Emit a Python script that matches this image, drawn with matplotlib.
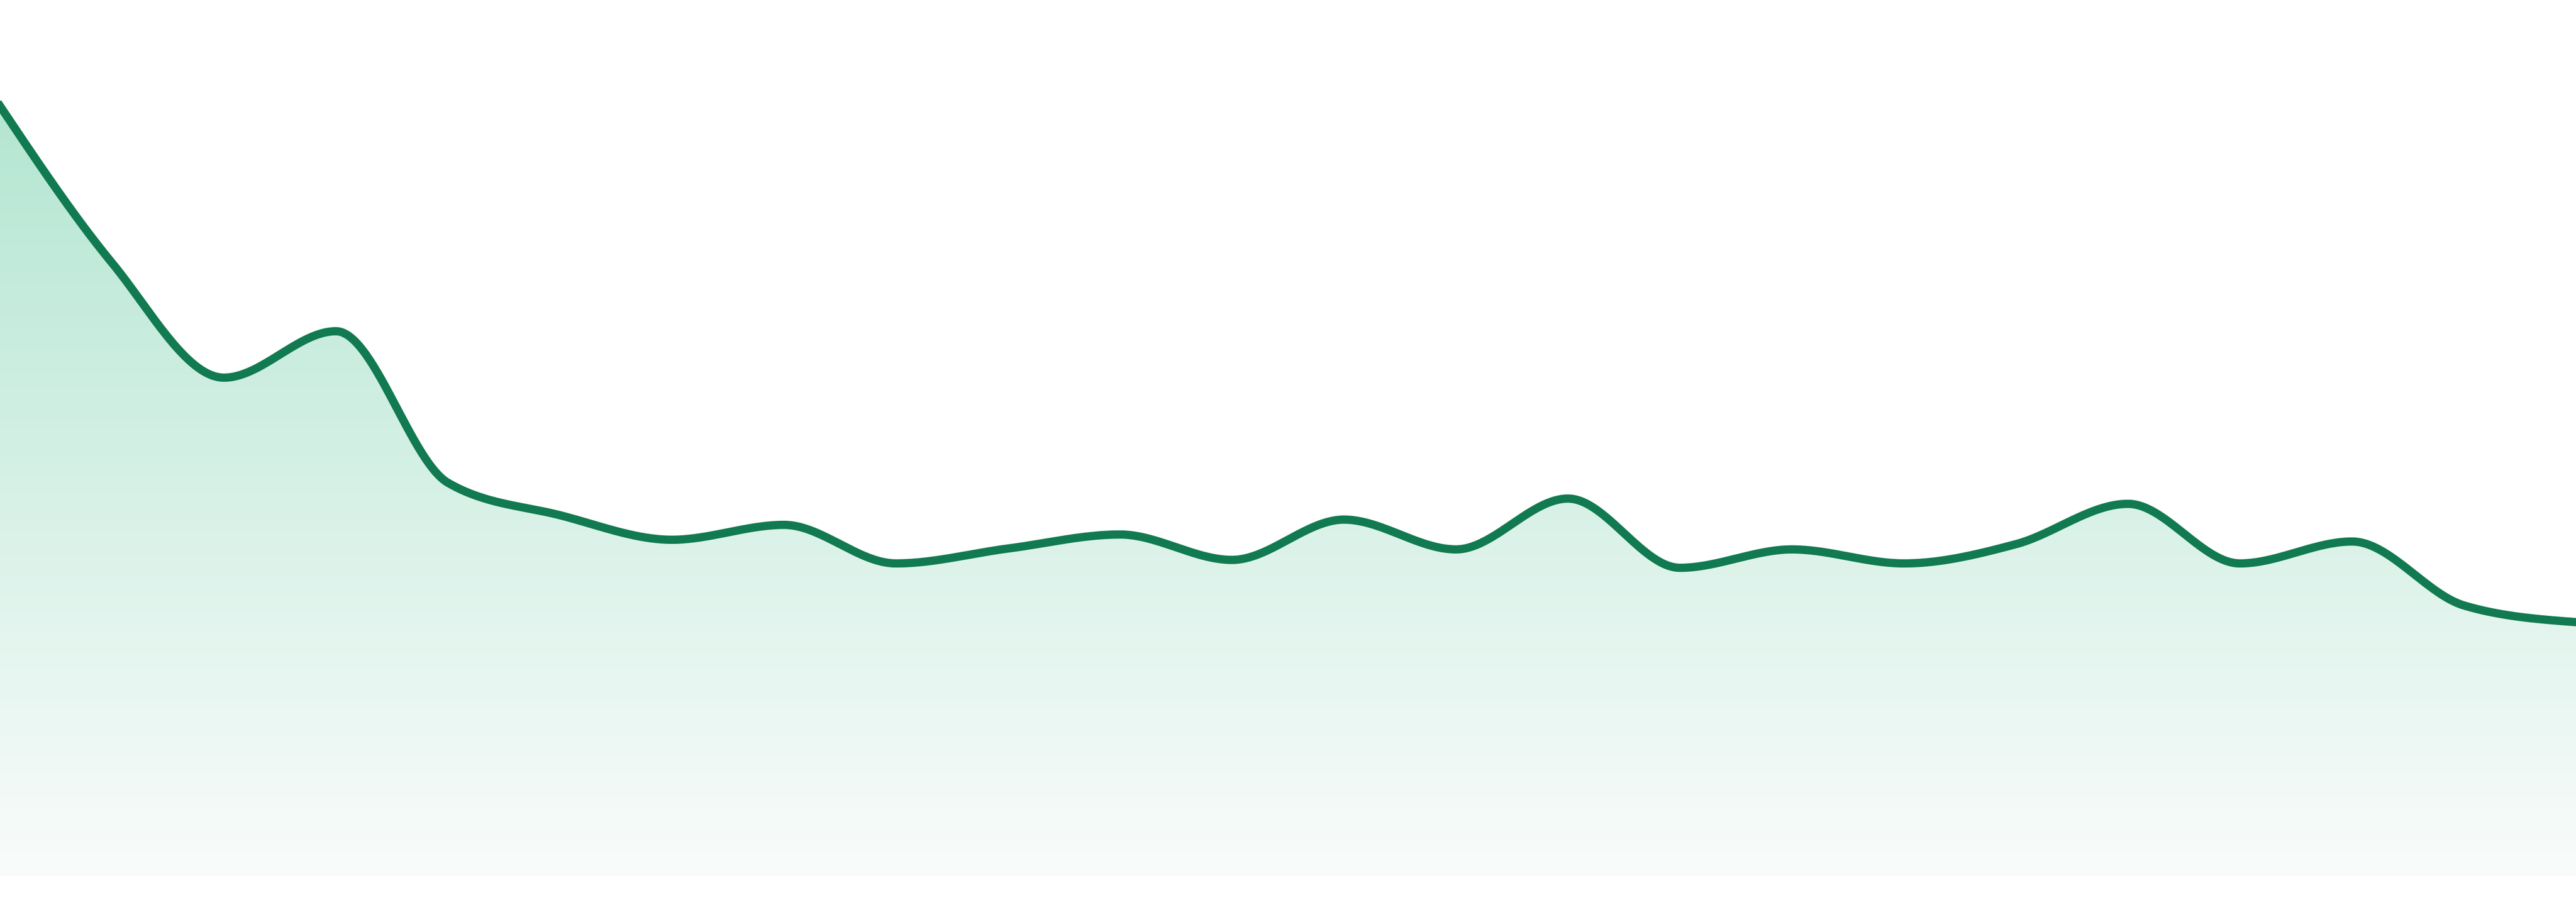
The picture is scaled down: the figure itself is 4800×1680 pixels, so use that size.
#!/usr/bin/env python3
"""Area sparkline: smooth monotone line over a fading green gradient fill."""
import numpy as np
import matplotlib; matplotlib.use("Agg"); import matplotlib.pyplot as plt

# --- data (arbitrary 0-100 scale) ---
idx = list(range(24))
values = [87.9, 70.0, 56.9, 62.2, 44.9, 41.2, 38.4, 40.1, 35.7, 37.4, 39.0, 36.1,
          40.7, 37.3, 43.1, 35.2, 37.3, 35.7, 37.9, 42.5, 35.7, 38.2, 30.9, 29.0]
LINE = "#117a51"; TOP = np.array([180, 230, 210]); BOT = np.array([249, 252, 251])
YLO, YHI = -2.94, 100

def monotone(x, y, n=60):
    # d3 curveMonotoneX style cubic hermite
    x = np.asarray(x, float); y = np.asarray(y, float); h = np.diff(x); s = np.diff(y) / h
    t = np.zeros_like(y)
    for i in range(1, len(y) - 1):
        p = (s[i-1]*h[i] + s[i]*h[i-1]) / (h[i-1] + h[i])
        t[i] = (np.sign(s[i-1]) + np.sign(s[i])) * min(abs(s[i-1]), abs(s[i]), 0.5*abs(p))
    t[0] = (3*s[0] - t[1]) / 2; t[-1] = (3*s[-1] - t[-2]) / 2
    X = []; Y = []
    for i in range(len(h)):
        u = np.linspace(0, 1, n, endpoint=False); hh = h[i]
        h00 = 2*u**3 - 3*u**2 + 1; h10 = u**3 - 2*u**2 + u; h01 = -2*u**3 + 3*u**2; h11 = u**3 - u**2
        X.append(x[i] + u*hh); Y.append(h00*y[i] + h10*hh*t[i] + h01*y[i+1] + h11*hh*t[i+1])
    X.append([x[-1]]); Y.append([y[-1]])
    return np.concatenate(X), np.concatenate(Y)

xs, ys = monotone(idx, values)
fig = plt.figure(figsize=(16, 5.6), dpi=300)
ax = fig.add_axes([0, 0, 1, 1]); ax.set_xlim(idx[0], idx[-1]); ax.set_ylim(YLO, YHI); ax.axis("off")

# gradient fill from the baseline (0) up to the curve
W, H = 4800, 1632
xg = np.linspace(idx[0], idx[-1], W); vg = np.linspace(YHI, 0, H)
cy = np.interp(xg, xs, ys)
f = np.clip(vg / max(values), 0, 1)[:, None]
rgba = np.zeros((H, W, 4), dtype=np.uint8)
rgba[..., :3] = (BOT + (TOP - BOT) * f[..., None]).astype(np.uint8)[:, :1, :]
rgba[..., 3] = np.where(vg[:, None] <= cy[None, :], 255, 0)
ax.imshow(rgba, extent=[idx[0], idx[-1], 0, YHI], aspect="auto", interpolation="nearest", zorder=1)

ax.plot(xs, ys, color=LINE, lw=3.7, solid_joinstyle="round", zorder=2)
fig.savefig("out.png", dpi=300, facecolor="white")
